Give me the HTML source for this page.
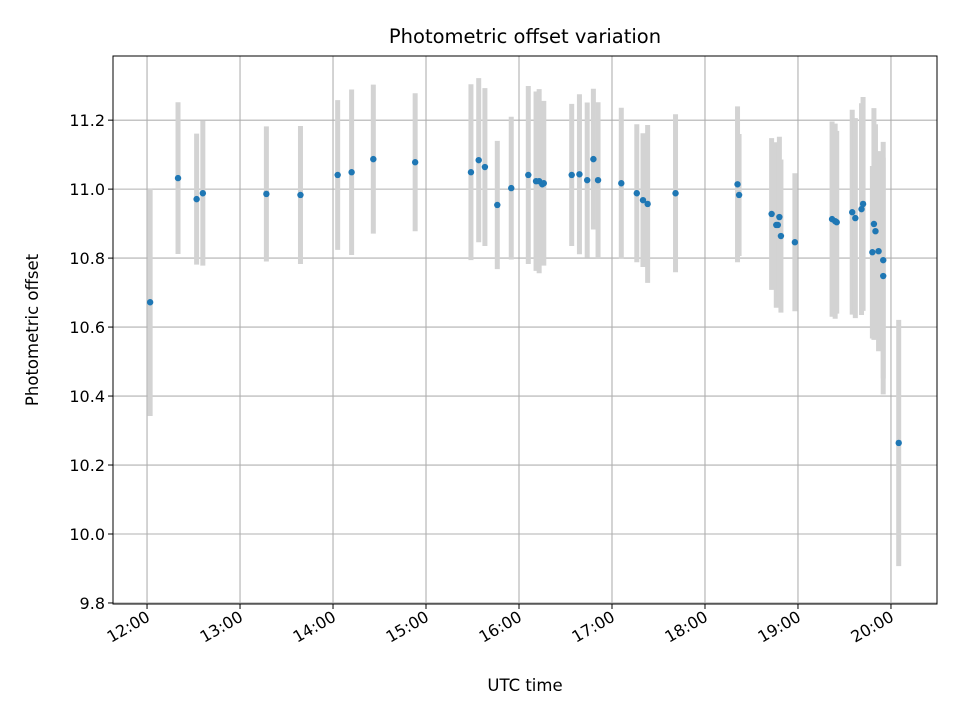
<!DOCTYPE html>
<html><head><meta charset="utf-8"><style>
body{margin:0;background:#fff;font-family:"Liberation Sans","DejaVu Sans",sans-serif}
</style></head><body>
<svg id="chart" width="960" height="720" xmlns="http://www.w3.org/2000/svg" font-family="DejaVu Sans, Liberation Sans, sans-serif">
<rect width="960" height="720" fill="#fff"/>
<g id="grid"></g><g id="bars"></g><g id="dots"></g><g id="axes"></g>
<text x="525" y="43" font-size="19.5" text-anchor="middle">Photometric offset variation</text>
<text x="525" y="691" font-size="16.5" text-anchor="middle">UTC time</text>
<text transform="translate(38,330) rotate(-90)" font-size="16.5" text-anchor="middle">Photometric offset</text>
</svg>
<script>
const times=["12:02","12:20","12:32","12:36","13:17","13:39","14:03","14:12","14:26","14:53","15:29","15:34","15:38","15:46","15:55","16:06","16:11","16:13","16:15","16:16","16:34","16:39","16:44","16:48","16:51","17:06","17:16","17:20","17:23","17:41","18:21","18:22","18:43","18:46","18:47","18:48","18:49","18:58","19:22","19:24","19:25","19:35","19:37","19:41","19:42","19:49","19:50","19:48","19:52","19:55","19:55","20:05"];
const offsets=[10.672,11.032,10.971,10.988,10.986,10.983,11.041,11.049,11.087,11.078,11.049,11.084,11.064,10.954,11.003,11.041,11.023,11.023,11.014,11.017,11.041,11.043,11.026,11.087,11.026,11.017,10.988,10.968,10.957,10.988,11.014,10.983,10.928,10.896,10.896,10.919,10.864,10.846,10.913,10.907,10.904,10.933,10.916,10.942,10.957,10.899,10.878,10.817,10.820,10.794,10.748,10.264];
const errors=[0.33,0.22,0.19,0.21,0.196,0.2,0.217,0.24,0.216,0.2,0.255,0.238,0.229,0.186,0.207,0.258,0.26,0.267,0.233,0.239,0.206,0.232,0.225,0.204,0.226,0.219,0.2,0.194,0.229,0.229,0.226,0.177,0.22,0.24,0.236,0.233,0.222,0.2,0.283,0.283,0.265,0.297,0.29,0.307,0.31,0.336,0.31,0.25,0.29,0.343,0.343,0.357];
const xTicks=["12:00","13:00","14:00","15:00","16:00","17:00","18:00","19:00","20:00"];
const yTicks=[9.8,10.0,10.2,10.4,10.6,10.8,11.0,11.2];

const L=113,R=937,T=56,B=604,xMin=11.634,xMax=20.495,yMin=9.797,yMax=11.386;
const NS="http://www.w3.org/2000/svg";
function hrs(s){const p=s.split(":");return +p[0]+ +p[1]/60;}
function X(h){return L+(h-xMin)/(xMax-xMin)*(R-L);}
function Y(v){return B-(v-yMin)/(yMax-yMin)*(B-T);}
function mk(tag,attrs,parent){const e=document.createElementNS(NS,tag);for(const k in attrs)e.setAttribute(k,attrs[k]);document.getElementById(parent).appendChild(e);return e;}

xTicks.forEach(t=>{const x=X(hrs(t));
 const g=mk("line",{x1:x,x2:x,y1:T,y2:B,stroke:"#b0b0b0","stroke-width":1.1},"grid");
 
 
 const tk=mk("line",{x1:x,x2:x,y1:B,y2:B+5,stroke:"#000","stroke-width":1},"axes");
 
 
 const lb=mk("text",{x:x+4,y:B+16,"font-size":16,"text-anchor":"end",transform:`rotate(-30 ${x+4} ${B+16})`},"axes");
 lb.textContent=t;
 
 
});
yTicks.forEach(v=>{const y=Y(v);
 const g=mk("line",{x1:L,x2:R,y1:y,y2:y,stroke:"#b0b0b0","stroke-width":1.1},"grid");
 
 
 const tk=mk("line",{x1:L-5,x2:L,y1:y,y2:y,stroke:"#000","stroke-width":1},"axes");
 
 
 const lb=mk("text",{x:L-8,y:y+6,"font-size":16,"text-anchor":"end"},"axes");
 lb.textContent=v.toFixed(1);
 
 
});
times.forEach((t,i)=>{const x=X(hrs(t));
 const b=mk("line",{x1:x,x2:x,y1:Y(offsets[i]+errors[i]),y2:Y(offsets[i]-errors[i]),stroke:"#d3d3d3","stroke-width":5},"bars");
 
 
});
times.forEach((t,i)=>{
 const d=mk("circle",{cx:X(hrs(t)),cy:Y(offsets[i]),r:3.2,fill:"#1f77b4"},"dots");
 
 
});
const f=mk("rect",{x:L,y:T,width:R-L,height:B-T,fill:"none",stroke:"#000","stroke-width":1},"axes");


</script>
</body></html>
